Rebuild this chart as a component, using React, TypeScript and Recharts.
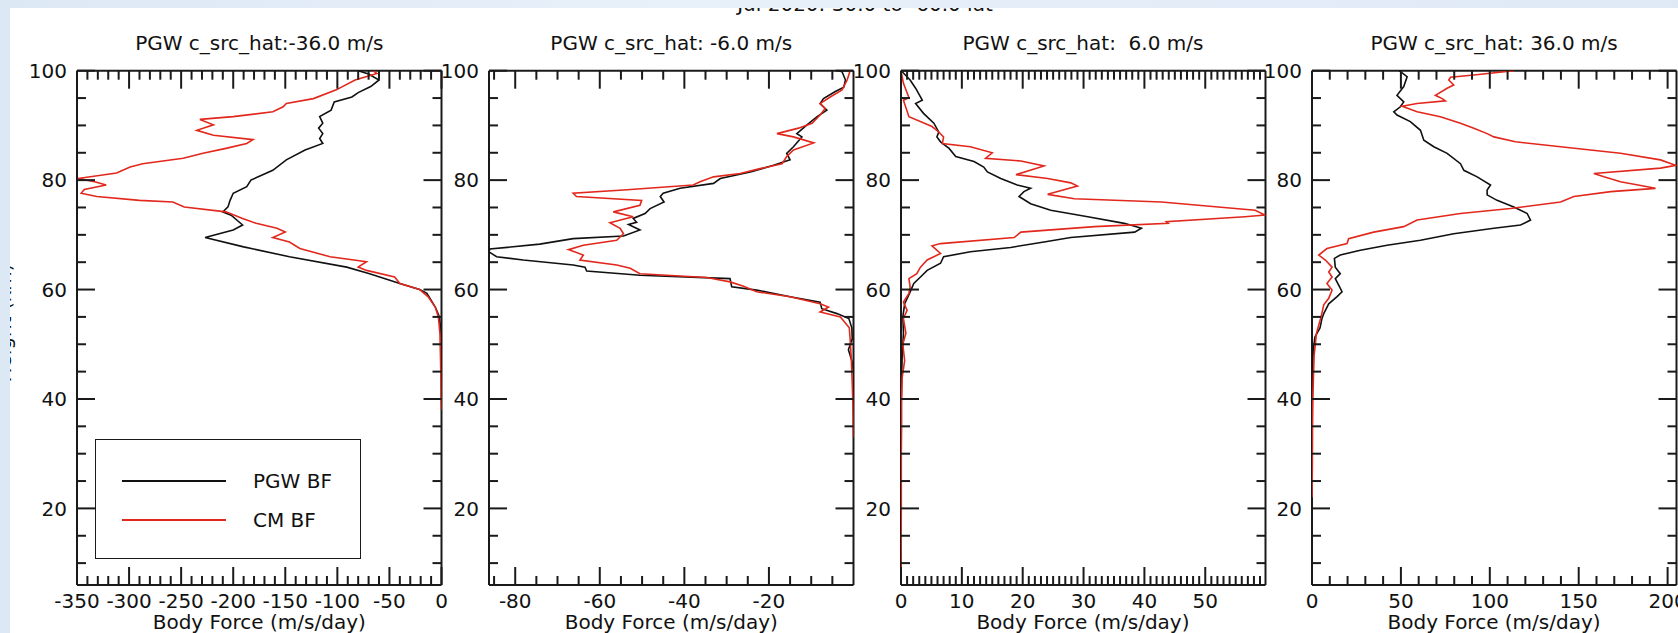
import React from "react";
import { ScatterChart, Scatter, XAxis, YAxis } from "recharts";

// Heights (km) and body force (m/s/day), top to bottom.
const p1PgwH = [100, 99.4, 98.3, 97.1, 96, 95.2, 94.3, 92.8, 91.6, 90.4, 89.5, 88.5, 87.6, 86.7, 85.5, 83.7, 81.8, 80, 78.8, 77.6, 76.3, 75.1, 74.2, 73.6, 71.8, 70.9, 69.5, 67.8, 66, 64.1, 62.9, 61.1, 60, 59.3, 56.8, 55, 52, 48, 45];
const p1PgwV = [-80, -70, -60, -68, -80, -86, -103, -106, -117, -114, -118, -114, -117, -114, -131, -149, -162, -183, -187, -200, -203, -205, -210, -202, -191, -200, -227, -190, -146, -91, -69, -40, -21, -14, -6, -2, -0.5, -0.2, 0];
const p1CmH = [100, 99.5, 98.3, 96.5, 94.9, 94, 93.4, 92.5, 91.6, 91.1, 90.1, 89.1, 88.2, 87.4, 86.7, 85.8, 84.9, 84, 83, 82.4, 81.3, 80.3, 79.7, 79.1, 78.3, 77.6, 77, 76.3, 76, 75.1, 74.2, 73, 72.1, 71.2, 70.5, 69.5, 68.7, 67.5, 66, 65.1, 64.1, 63.5, 62.3, 61.1, 60, 58.7, 56.8, 55, 52, 48, 44, 40, 38];
const p1CmV = [-66, -62, -83, -101, -123, -149, -152, -162, -200, -232, -219, -235, -219, -181, -187, -207, -229, -248, -287, -299, -312, -349, -333, -322, -343, -346, -331, -290, -258, -247, -207, -191, -178, -158, -150, -162, -146, -136, -107, -72, -80, -72, -45, -40, -21, -13, -6, -3, -1.5, -1, -0.6, -0.3, 0];

const p2PgwH = [100, 99.8, 98.3, 97, 96.2, 94.9, 94, 92.8, 91.6, 90.1, 88.5, 87.9, 86.1, 84.9, 83.7, 82.7, 81.5, 80.3, 79.4, 78.5, 77.6, 77, 76, 74.8, 73.9, 73, 72.3, 71.9, 70.9, 69.8, 69.3, 68.3, 67.4, 66.9, 66, 65.4, 64.5, 64.1, 63.4, 62.6, 62, 60.5, 59.9, 58.7, 57.7, 56.5, 55.6, 54.7, 53, 51, 49, 47, 45];
const p2PgwV = [-3.5, -2.7, -1.9, -2.3, -4.3, -7.1, -7.9, -6.3, -8.6, -11, -13.4, -12.2, -14.2, -15.8, -15, -18.9, -24.4, -31.5, -33.1, -41, -45, -45.7, -44.8, -48.1, -49.3, -52.1, -51.3, -53.2, -50.5, -54.4, -66.3, -74.2, -86, -86.2, -84.4, -78.1, -66.3, -63.5, -63.1, -50.5, -29.2, -28.8, -22.9, -15, -7.9, -7.5, -3.9, -1.1, -0.4, -0.3, -1.2, -0.4, 0];
const p2CmH = [100, 98.3, 96.5, 95.2, 94, 93.1, 91.9, 90.4, 89.5, 88.5, 87.9, 86.8, 85.5, 84.3, 83, 82.1, 81.2, 80.6, 79.7, 79.1, 78.2, 77.6, 77, 76.3, 75.4, 74.2, 73.3, 72.2, 71.2, 70.2, 69, 68.1, 67.3, 66.3, 65.4, 64.5, 63.9, 62.9, 62.2, 61.4, 60.6, 59.6, 58.7, 57.4, 56.8, 55.9, 55, 53, 51, 47, 43, 38, 33];
const p2CmV = [-0.8, -1.5, -2.7, -5.5, -7.9, -6.7, -7.9, -9.8, -13, -18.1, -14.2, -9.4, -14.2, -15.8, -16.9, -22.1, -26.8, -33.1, -36.3, -37.9, -54.4, -66.3, -65.5, -50.1, -50.5, -56.8, -52.1, -57.6, -55.2, -54.4, -56, -63.9, -67.4, -63.9, -64.7, -56, -52.8, -50.5, -34.7, -29.2, -26, -22.9, -15, -7.9, -5.9, -7.9, -3.1, -1, -0.8, -0.5, -0.3, -0.1, 0];

const p3PgwH = [100, 99.8, 98.3, 96.8, 95.2, 94.6, 94, 92.2, 90.4, 88.8, 87.9, 87, 85.8, 84.3, 83.4, 82.4, 81.5, 80.3, 79.1, 78.5, 77.9, 77, 75.7, 74.5, 73.3, 72.1, 71.2, 70.5, 69.5, 68.7, 67.7, 66.9, 66, 64.8, 63.5, 62.3, 61.1, 59.3, 57.4, 55, 52, 48, 44, 40, 37];
const p3PgwV = [0, 0.2, 1.5, 2.4, 3.2, 3.5, 2.4, 3.7, 5.4, 6.2, 5.9, 6.5, 7.9, 9, 12, 13.6, 14.2, 16.4, 19.1, 21.3, 20.2, 19.4, 21.3, 24.6, 30.7, 36.7, 39.5, 38.4, 27.9, 23.5, 18, 11.4, 7, 6.5, 4.3, 3.2, 2.1, 1.4, 0.6, 0.3, 0.4, 0.2, 0.1, 0.05, 0];
const p3CmH = [100, 97.7, 95.1, 94.6, 91.6, 89.8, 88.8, 87.9, 86.7, 86.1, 85, 84, 83.5, 82.6, 81, 80.3, 79.5, 78.9, 77.4, 76.6, 76, 74.5, 73.6, 73.3, 72.4, 72.1, 71.5, 70.5, 69.5, 68.4, 68, 66.6, 65.4, 64.1, 62.9, 62, 60.5, 59.3, 57.7, 56.2, 54.7, 52, 50, 47, 44, 40, 35, 30, 20, 10, 6];
const p3CmV = [0, 0.4, 1.3, 0.4, 1.3, 5.1, 6.2, 7, 6.8, 11.4, 15, 13.9, 19.7, 23.5, 18.9, 24.1, 27.9, 29, 24.1, 28.5, 42.8, 58.2, 59.8, 56.5, 43.6, 43.9, 31.8, 19.7, 18.6, 6.5, 5.1, 6.5, 4.3, 3.2, 2.6, 1.3, 1.5, 1.3, 0.4, 1, 0.4, 0.8, 0.3, 0.6, 0.2, 0.1, 0.1, 0.05, 0.05, 0, 0];

const p4PgwH = [100, 98.9, 97.1, 95.5, 94.3, 93.4, 92.5, 91.9, 90.7, 89.1, 87.3, 86.1, 84.9, 83, 81.8, 80.6, 79.1, 78.2, 77.3, 76.3, 75.1, 73.9, 72.7, 71.8, 71.2, 70.2, 69, 68.1, 67.2, 66.3, 65.7, 64.1, 62.9, 62, 60.8, 59.6, 58.7, 57.4, 55.6, 54.7, 53, 51.3, 49, 46, 43];
const p4PgwV = [49, 53.5, 51.6, 47.8, 51.6, 49.7, 46, 47.8, 55.3, 61, 62.9, 68.5, 76, 83.5, 85.4, 92.9, 100.4, 98.5, 98.5, 104.1, 113.5, 121, 122.9, 117.3, 102.3, 79.7, 61, 42.2, 27.2, 15.9, 12.6, 13.1, 15.9, 13.1, 15, 16.9, 14.1, 9.4, 6.6, 5.6, 4.5, 1.6, 0.8, 0.3, 0];
const p4CmH = [100, 99.2, 98.8, 98.3, 97.4, 96.8, 95.5, 94.9, 94.5, 94, 93.5, 92.5, 91.6, 90.4, 89.5, 88.5, 87.9, 87, 86.1, 84.9, 83.7, 82.7, 82.2, 81.2, 80.6, 79.7, 78.5, 77.9, 77, 76, 74.8, 73.9, 72.7, 71.5, 70.5, 69.3, 68.4, 67.5, 66.3, 65.4, 64.1, 63.2, 62.3, 61.1, 59.9, 58.4, 57.2, 55, 52, 48, 44, 40, 35, 28, 22];
const p4CmV = [113.5, 91, 77.9, 76.9, 79.7, 76, 69.4, 73.2, 75, 59.1, 50.7, 59.1, 72.2, 83.5, 91, 98.5, 102.3, 114.4, 139.8, 173.5, 196, 204.5, 196, 158.5, 164.2, 173.5, 193.2, 168, 147.3, 139.8, 111.6, 83.5, 59.1, 51.6, 34.7, 20.6, 19.7, 8.4, 3.8, 7.5, 11.3, 9.4, 11.3, 8.4, 11.3, 9.4, 6.6, 5.1, 2.5, 1.2, 0.8, 0.5, 0.3, 0.2, 0];

// axis ticks
const heightTicks = [10, 15, 20, 25, 30, 35, 40, 45, 50, 55, 60, 65, 70, 75, 80, 85, 90, 95, 100];
const heightMajor = [20, 40, 60, 80, 100];
const p1Major = [-350, -300, -250, -200, -150, -100, -50, 0];
const p2Major = [-80, -60, -40, -20];
const p3Major = [0, 10, 20, 30, 40, 50];
const p4Major = [0, 50, 100, 150, 200];

const titles = [
  "PGW c_src_hat:-36.0 m/s",
  "PGW c_src_hat: -6.0 m/s",
  "PGW c_src_hat:  6.0 m/s",
  "PGW c_src_hat: 36.0 m/s",
];

const range = (a: number, b: number, step: number) => {
  const out: number[] = [];
  for (let v = a; v <= b + 1e-9; v += step) out.push(Math.round(v * 100) / 100);
  return out;
};

const zip = (h: number[], v: number[]) => h.map((hh, i) => ({ h: hh, v: v[i] }));

const FONT = "'DejaVu Sans', Verdana, sans-serif";
const INK = "#111111";
const RED = "#e2281c";
const AXIS = "#1a1a1a";

const PLOT_TOP = 70.7;
const PLOT_BOTTOM = 585;
const PLOT_W = 364.5;
const LEFT_W = 70;
const RIGHT_W = 6;
const TOP_H = 1;
const BOTTOM_H = 633 - PLOT_BOTTOM;
const PANEL_LEFT = [77, 489, 900.7, 1311.8];

const panels = [
  { domain: [-350, 0], ticks: range(-350, 0, 10), major: p1Major, pgw: zip(p1PgwH, p1PgwV), cm: zip(p1CmH, p1CmV) },
  { domain: [-86.2, 0], ticks: range(-85, -5, 5), major: p2Major, pgw: zip(p2PgwH, p2PgwV), cm: zip(p2CmH, p2CmV) },
  { domain: [0, 59.9], ticks: range(0, 59, 1), major: p3Major, pgw: zip(p3PgwH, p3PgwV), cm: zip(p3CmH, p3CmV) },
  { domain: [0, 205], ticks: range(0, 200, 10), major: p4Major, pgw: zip(p4PgwH, p4PgwV), cm: zip(p4CmH, p4CmV) },
];

type Side = "bottom" | "top" | "left" | "right";

function makeTick(side: Side, major: number[], showLabels: boolean) {
  return (props: any) => {
    const { x, y, payload } = props;
    const v = payload.value;
    const isMajor = major.includes(v);
    const len = isMajor ? 18 : 9;
    let line;
    let label = null;
    if (side === "bottom") {
      line = <line x1={x} y1={y} x2={x} y2={y - len} stroke={AXIS} strokeWidth={2} />;
      if (showLabels && isMajor)
        label = (
          <text x={x} y={y + 22.5} textAnchor="middle" fontSize={20} fontFamily={FONT} fill={INK}>
            {v}
          </text>
        );
    } else if (side === "top") {
      line = <line x1={x} y1={y} x2={x} y2={y + len} stroke={AXIS} strokeWidth={2} />;
    } else if (side === "left") {
      line = <line x1={x} y1={y} x2={x + len} y2={y} stroke={AXIS} strokeWidth={2} />;
      if (showLabels && isMajor)
        label = (
          <text x={x - 10} y={y + 7.3} textAnchor="end" fontSize={20} fontFamily={FONT} fill={INK}>
            {v}
          </text>
        );
    } else {
      line = <line x1={x} y1={y} x2={x - len} y2={y} stroke={AXIS} strokeWidth={2} />;
    }
    return (
      <g>
        {line}
        {label}
      </g>
    );
  };
}

const noShape = () => <g />;

function Panel({ index }: { index: number }) {
  const p = panels[index];
  const left = PANEL_LEFT[index];
  return (
    <>
      <div
        style={{
          position: "absolute",
          left,
          top: 30.7,
          width: PLOT_W,
          textAlign: "center",
          fontFamily: FONT,
          fontSize: 20,
          lineHeight: "24px",
          whiteSpace: "pre",
          color: INK,
        }}
      >
        {titles[index]}
      </div>
      <div style={{ position: "absolute", left: left - LEFT_W, top: 0 }}>
        <ScatterChart
          width={LEFT_W + PLOT_W + RIGHT_W}
          height={633}
          margin={{ top: PLOT_TOP - TOP_H, right: 0, bottom: 0, left: 0 }}
        >
          <XAxis
            xAxisId="b"
            type="number"
            dataKey="v"
            orientation="bottom"
            domain={p.domain}
            allowDataOverflow
            ticks={p.ticks}
            interval={0}
            height={BOTTOM_H}
            tickSize={0}
            tickMargin={0}
            tickLine={false}
            axisLine={{ stroke: AXIS, strokeWidth: 2 }}
            tick={makeTick("bottom", p.major, true)}
          />
          <XAxis
            xAxisId="t"
            type="number"
            dataKey="v"
            orientation="top"
            domain={p.domain}
            allowDataOverflow
            ticks={p.ticks}
            interval={0}
            height={TOP_H}
            tickSize={0}
            tickMargin={0}
            tickLine={false}
            axisLine={{ stroke: AXIS, strokeWidth: 2 }}
            tick={makeTick("top", p.major, false)}
          />
          <YAxis
            yAxisId="l"
            type="number"
            dataKey="h"
            orientation="left"
            domain={[6, 100]}
            allowDataOverflow
            ticks={heightTicks}
            interval={0}
            width={LEFT_W}
            tickSize={0}
            tickMargin={0}
            tickLine={false}
            axisLine={{ stroke: AXIS, strokeWidth: 2 }}
            tick={makeTick("left", heightMajor, true)}
          />
          <YAxis
            yAxisId="r"
            type="number"
            dataKey="h"
            orientation="right"
            domain={[6, 100]}
            allowDataOverflow
            ticks={heightTicks}
            interval={0}
            width={RIGHT_W}
            tickSize={0}
            tickMargin={0}
            tickLine={false}
            axisLine={{ stroke: AXIS, strokeWidth: 2 }}
            tick={makeTick("right", heightMajor, false)}
          />
          <Scatter
            name="PGW BF"
            data={p.pgw}
            xAxisId="b"
            yAxisId="l"
            fill={INK}
            line={{ stroke: INK, strokeWidth: 1.6 }}
            shape={noShape}
            isAnimationActive={false}
          />
          <Scatter
            name="CM BF"
            data={p.cm}
            xAxisId="b"
            yAxisId="l"
            fill={RED}
            line={{ stroke: RED, strokeWidth: 1.6 }}
            shape={noShape}
            isAnimationActive={false}
          />
        </ScatterChart>
      </div>
      <div
        style={{
          position: "absolute",
          left,
          top: 609.7,
          width: PLOT_W,
          textAlign: "center",
          fontFamily: FONT,
          fontSize: 20,
          lineHeight: "24px",
          color: INK,
        }}
      >
        Body Force (m/s/day)
      </div>
    </>
  );
}

function LegendBox() {
  const row = (color: string, text: string, top: number) => (
    <>
      <div style={{ position: "absolute", left: 26, top: top - 1, width: 104, height: 2, background: color }} />
      <div style={{ position: "absolute", left: 157, top: top - 12, lineHeight: "24px", fontSize: 20, fontFamily: FONT, color: INK }}>
        {text}
      </div>
    </>
  );
  return (
    <div
      style={{
        position: "absolute",
        left: 95,
        top: 439,
        width: 266,
        height: 120,
        boxSizing: "border-box",
        border: `1.6px solid ${AXIS}`,
        background: "#ffffff",
      }}
    >
      {row(INK, "PGW BF", 41)}
      {row(RED, "CM BF", 80)}
    </div>
  );
}

export default function App() {
  return (
    <div
      style={{
        position: "fixed",
        left: 0,
        top: 0,
        width: 1678,
        height: 633,
        overflow: "hidden",
        background: "linear-gradient(90deg, #dde8f5 0%, #e8f0f9 40%, #dfe9f6 100%)",
      }}
    >
      <div
        style={{
          position: "absolute",
          left: 10,
          top: 8,
          width: 1668,
          height: 625,
          background: "#ffffff",
          overflow: "hidden",
        }}
      >
        <svg width={1668} height={625} style={{ position: "absolute", left: 0, top: 0 }}>
          <text x={855} y={2.5} textAnchor="middle" fontSize={20} fontFamily={FONT} fill={INK}>
            Jul 2020: 30.0 to -60.0 lat
          </text>
          <text
            transform="translate(1,315) rotate(-90)"
            textAnchor="middle"
            fontSize={20}
            fontFamily={FONT}
            fill={INK}
          >
            Height (km)
          </text>
        </svg>
      </div>
      {panels.map((_, i) => (
        <Panel key={i} index={i} />
      ))}
      <LegendBox />
    </div>
  );
}
